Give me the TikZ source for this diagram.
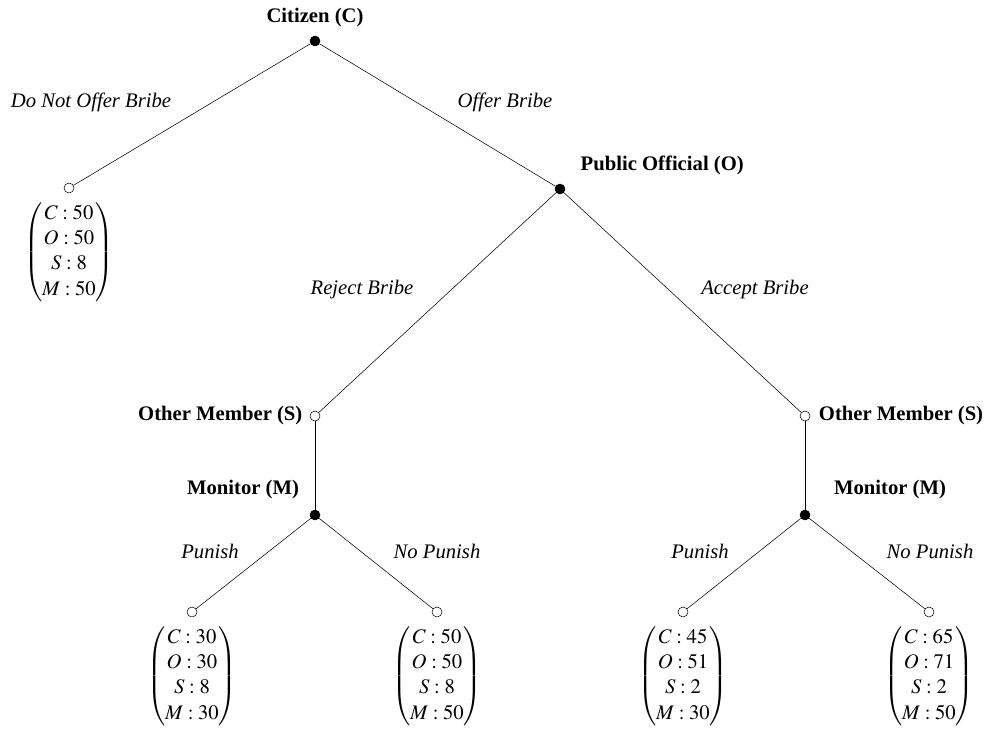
\documentclass[tikz,border=0pt]{standalone}
\usepackage{amsmath}
\usepackage{mathptmx}
\usepackage{fontspec}
\setmainfont{Liberation Serif}
\usetikzlibrary{positioning}

\begin{document}
\begin{tikzpicture}[x=0.75pt,y=-0.75pt,
        every node/.style={font=\fontsize{15.5}{19}\selectfont},
        dec/.style={circle,draw,fill=black,inner sep=0pt,minimum size=7.5pt},
        term/.style={circle,draw,fill=white,inner sep=0pt,minimum size=7.5pt},
        player/.style={font=\fontsize{15.5}{19}\selectfont\bfseries},
        act/.style={font=\fontsize{15.5}{19}\selectfont\itshape},
        pay/.style={below=6pt,inner sep=0pt}]
        \useasboundingbox (0,0) rectangle (995,733);

        % decision nodes
        \node[dec] (c) at (315,41) {};
        \node[player, above=3pt of c] (lc) {Citizen (C)};
        \node[term] (n) at (69,188) {};
        \node[dec] (o) at (560,189) {};
        \node[player, anchor=west] (lo) at (576,165) {Public Official (O)};

        \node[term] (s1) at (315,416) {};
        \node[player, left=2pt of s1] (ls1) {Other Member (S)};
        \node[dec] (m1) at (315,515) {};
        \node[player] (lm1) at (243,490) {Monitor (M)};
        \node[term] (s2) at (805,416) {};
        \node[player, right=3pt of s2] (ls2) {Other Member (S)};
        \node[dec] (m2) at (805,515) {};
        \node[player] (lm2) at (890,490) {Monitor (M)};

        \node[term] (p1) at (192,612) {};
        \node[term] (q1) at (437,612) {};
        \node[term] (p2) at (683,612) {};
        \node[term] (q2) at (929,612) {};

        % payoffs
        \node[pay] (vn) at (n.south) {$\begin{pmatrix} C:50\\ O:50\\ S:8\\ M:50 \end{pmatrix}$};
        \node[pay] (vp1) at (p1.south) {$\begin{pmatrix} C:30\\ O:30\\ S:8\\ M:30 \end{pmatrix}$};
        \node[pay] (vq1) at (q1.south) {$\begin{pmatrix} C:50\\ O:50\\ S:8\\ M:50 \end{pmatrix}$};
        \node[pay] (vp2) at (p2.south) {$\begin{pmatrix} C:45\\ O:51\\ S:2\\ M:30 \end{pmatrix}$};
        \node[pay] (vq2) at (q2.south) {$\begin{pmatrix} C:65\\ O:71\\ S:2\\ M:50 \end{pmatrix}$};

        % moves
        \draw (c) -- (n);
        \draw (c) -- (o);
        \draw (o) -- (s1);
        \draw (o) -- (s2);
        \draw (s1) -- (m1);
        \draw (s2) -- (m2);
        \draw (m1) -- (p1);
        \draw (m1) -- (q1);
        \draw (m2) -- (p2);
        \draw (m2) -- (q2);

        \node[act] (an) at (91,102) {Do Not Offer Bribe};
        \node[act] (ao) at (505,102) {Offer Bribe};
        \node[act] (ar) at (362,290) {Reject Bribe};
        \node[act] (aa) at (755,290) {Accept Bribe};
        \node[act] (ap1) at (210,551) {Punish};
        \node[act] (aq1) at (437,551) {No Punish};
        \node[act] (ap2) at (700,551) {Punish};
        \node[act] (aq2) at (930,551) {No Punish};
\end{tikzpicture}
\end{document}
